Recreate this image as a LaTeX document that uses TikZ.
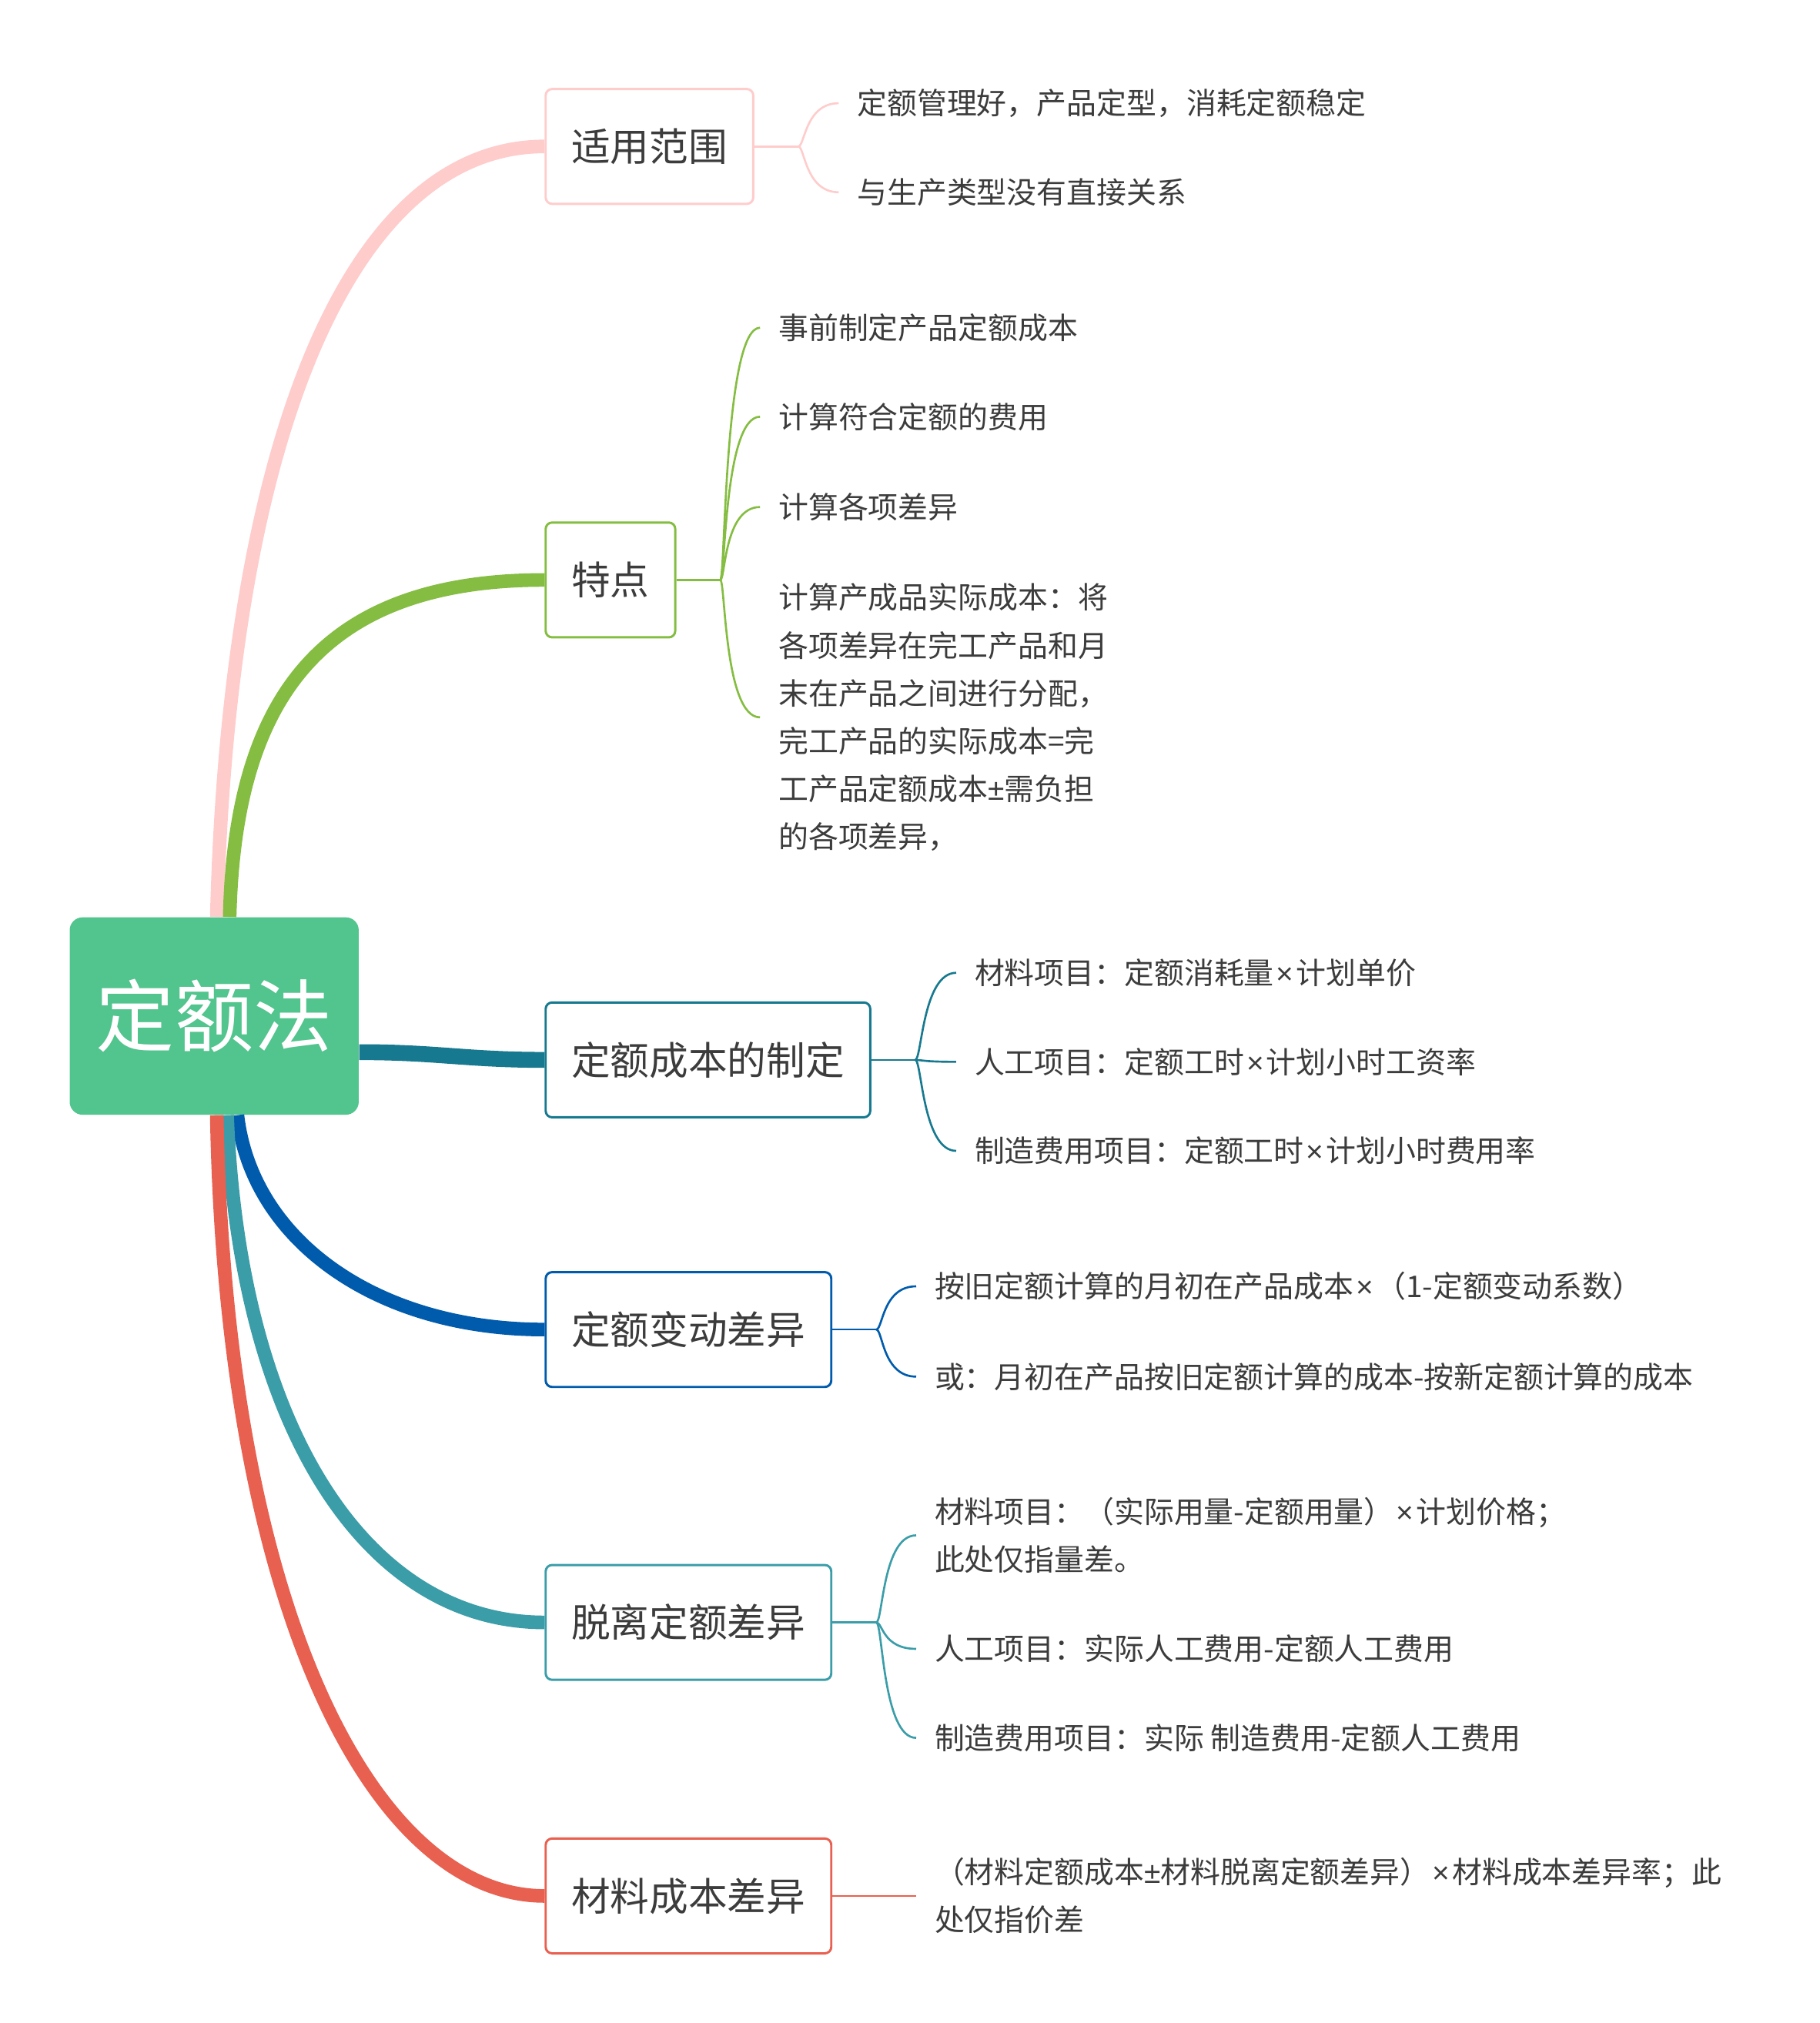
\documentclass[tikz,border=0pt]{standalone}
\usepackage{fontspec}
\setmainfont{Noto Sans CJK SC}
\newfontfamily\latfont{Liberation Sans}
\newcommand{\mul}{\hspace{0.08em}{\latfont ×}\hspace{0.08em}}
\newcommand{\plm}{{\latfont ±}}
\usetikzlibrary{positioning, calc}
\definecolor{rootgreen}{RGB}{82,196,142}
\definecolor{scopepink}{RGB}{255,204,204}
\definecolor{featgreen}{RGB}{132,189,65}
\definecolor{setteal}{RGB}{23,121,143}
\definecolor{chgblue}{RGB}{0,91,172}
\definecolor{devcyan}{RGB}{58,157,168}
\definecolor{matred}{RGB}{232,96,80}
\definecolor{txtgray}{RGB}{60,60,60}

\tikzset{
  topic/.style={draw=#1, line width=1pt, fill=white, rounded corners=1mm,
    anchor=west, minimum height=17.8mm, inner xsep=4mm, text=txtgray,
    font=\fontsize{17.2}{20}\selectfont},
  leaf/.style={anchor=west, inner xsep=2.8mm, inner ysep=0pt, align=left,
    text=txtgray, font=\fontsize{13.2}{21.1}\selectfont},
  trunk/.style={draw=#1, line width=6pt},
  twig/.style={draw=#1, line width=0.9pt},
}

\begin{document}
\begin{tikzpicture}[x=0.2mm, y=-0.2mm]
  \useasboundingbox (0,0) rectangle (1410,1568);

  % central topic
  \node[fill=rootgreen, rounded corners=2mm, minimum width=44.8mm, minimum height=30.6mm,
        text=white, font=\fontsize{34.7}{40}\selectfont] (root) at (166,787.5) {定额法};

  % main topics
  \node[topic=scopepink] (scope) at (422,113.5)  {适用范围};
  \node[topic=featgreen] (feat)  at (422,449.5)  {特点};
  \node[topic=setteal]   (set)   at (422,821.5)  {定额成本的制定};
  \node[topic=chgblue]   (chg)   at (422,1030.5) {定额变动差异};
  \node[topic=devcyan]   (dev)   at (422,1257.5) {脱离定额差异};
  \node[topic=matred]    (mat)   at (422,1469.5) {材料成本差异};

  % branches
  \draw[trunk=scopepink] ([xshift=0.4mm]root.north) .. controls (178,330) and (275,113.5) .. (scope.west);
  \draw[trunk=featgreen] ([xshift=2.4mm]root.north) .. controls (182,540) and (250,449.5) .. (feat.west);
  \draw[trunk=setteal, line width=7pt] ([yshift=-5.6mm]root.east) .. controls +(60,0) and +(-60,0) .. (set.west);
  \draw[trunk=chgblue]   ([xshift=3.6mm]root.south) .. controls (195,960) and (290,1030.5) .. (chg.west);
  \draw[trunk=devcyan]   ([xshift=2mm]root.south) .. controls (185,1100) and (280,1257.5) .. (dev.west);
  \draw[trunk=matred]    ([xshift=0.4mm]root.south) .. controls (175,1250) and (290,1469.5) .. (mat.west);

  % leaves
  \node[leaf] (sc1) at (650,80)  {定额管理好，产品定型，消耗定额稳定};
  \node[leaf] (sc2) at (650,149) {与生产类型没有直接关系};

  \node[leaf] (ft1) at (589,254) {事前制定产品定额成本};
  \node[leaf] (ft2) at (589,323) {计算符合定额的费用};
  \node[leaf] (ft3) at (589,393) {计算各项差异};
  \node[leaf] (ft4) at (589,556) {计算产成品实际成本：将\\各项差异在完工产品和月\\末在产品之间进行分配，\\完工产品的实际成本=完\\工产品定额成本\plm 需负担\\的各项差异，};

  \node[leaf] (st1) at (741,754) {材料项目：定额消耗量\mul 计划单价};
  \node[leaf] (st2) at (741,823) {人工项目：定额工时\mul 计划小时工资率};
  \node[leaf] (st3) at (741,892) {制造费用项目：定额工时\mul 计划小时费用率};

  \node[leaf] (cg1) at (710,997)  {按旧定额计算的月初在产品成本\mul （1-定额变动系数）};
  \node[leaf] (cg2) at (710,1067) {或：月初在产品按旧定额计算的成本-按新定额计算的成本};

  \node[leaf] (dv1) at (710,1190) {材料项目：（实际用量-定额用量）\mul 计划价格；\\此处仅指量差。};
  \node[leaf] (dv2) at (710,1278) {人工项目：实际人工费用-定额人工费用};
  \node[leaf] (dv3) at (710,1347) {制造费用项目：实际 制造费用-定额人工费用};

  \node[leaf] (mt1) at (710,1469.5) {（材料定额成本\plm 材料脱离定额差异）\mul 材料成本差异率；此\\处仅指价差};

  % sub branches
  \coordinate (scope-j) at ([xshift=6.8mm]scope.east);
  \coordinate (feat-j)  at ([xshift=6.8mm]feat.east);
  \coordinate (set-j)   at ([xshift=6.8mm]set.east);
  \coordinate (chg-j)   at ([xshift=6.8mm]chg.east);
  \coordinate (dev-j)   at ([xshift=6.8mm]dev.east);

  \draw[twig=scopepink] (scope.east) -- (scope-j);
  \foreach \lf in {sc1, sc2}
    \draw[twig=scopepink] (scope-j) .. controls +(5,0) and +(-26,0) .. (\lf.west);
  \draw[twig=featgreen] (feat.east) -- (feat-j);
  \foreach \lf in {ft1, ft2, ft3, ft4}
    \draw[twig=featgreen] (feat-j) .. controls +(4,0) and +(-28,0) .. (\lf.west);
  \draw[twig=setteal] (set.east) -- (set-j);
  \foreach \lf in {st1, st2, st3}
    \draw[twig=setteal] (set-j) .. controls +(5,0) and +(-26,0) .. (\lf.west);
  \draw[twig=chgblue] (chg.east) -- (chg-j);
  \foreach \lf in {cg1, cg2}
    \draw[twig=chgblue] (chg-j) .. controls +(5,0) and +(-26,0) .. (\lf.west);
  \draw[twig=devcyan] (dev.east) -- (dev-j);
  \foreach \lf in {dv1, dv2, dv3}
    \draw[twig=devcyan] (dev-j) .. controls +(5,0) and +(-26,0) .. (\lf.west);
  \draw[twig=matred] (mat.east) -- (mt1.west);
\end{tikzpicture}
\end{document}
